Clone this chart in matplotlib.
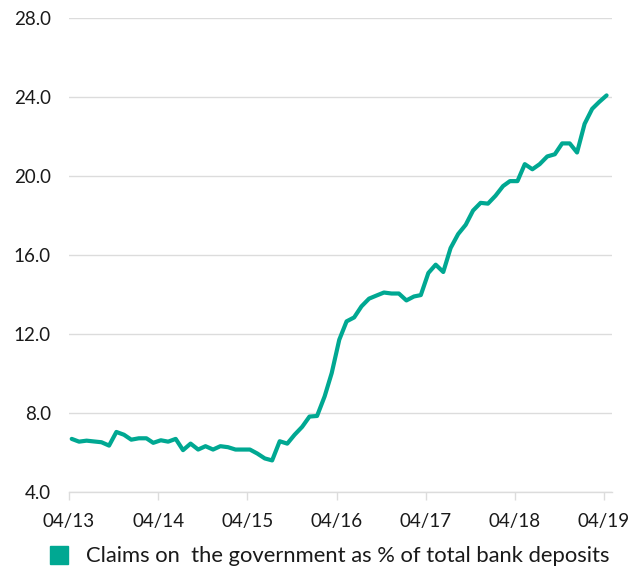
import numpy as np
import pandas as pd
import matplotlib
matplotlib.use("Agg")
import matplotlib.pyplot as plt
import matplotlib.dates as mdates
from matplotlib.patches import Patch

# monthly observations, 04/2013 .. 04/2019
months = pd.date_range("2013-04-01", periods=73, freq="MS") + pd.Timedelta(days=11)
claims_pct = [
    6.69, 6.55, 6.60, 6.56, 6.52, 6.35, 7.04, 6.90, 6.65, 6.72, 6.72, 6.49,
    6.62, 6.55, 6.69, 6.12, 6.45, 6.15, 6.32, 6.15, 6.32, 6.27, 6.15, 6.15,
    6.15, 5.95, 5.70, 5.60, 6.57, 6.45, 6.90, 7.30, 7.82, 7.85, 8.84, 10.02,
    11.71, 12.64, 12.84, 13.40, 13.79, 13.95, 14.10, 14.05, 14.05, 13.70, 13.90, 13.97,
    15.09, 15.51, 15.14, 16.35, 17.06, 17.53, 18.25, 18.64, 18.60, 19.00, 19.49, 19.74,
    19.74, 20.60, 20.34, 20.60, 20.99, 21.10, 21.65, 21.65, 21.19, 22.64, 23.40, 23.74,
    24.08,
]
tick_dates = pd.date_range("2013-04-01", "2019-04-01", freq="12MS")
y_ticks = [4, 8, 12, 16, 20, 24, 28]
series_label = "Claims on  the government as % of total bank deposits"

teal = "#00A892"
grid_col = "#DCDCDC"
plt.rcParams["font.family"] = ["Lato", "DejaVu Sans"]

fig = plt.figure(figsize=(6.35, 5.69), dpi=100)
ax = fig.add_axes([0.1087, 0.1353, 0.855, 0.8331])

ax.plot(months, claims_pct, color=teal, lw=3, solid_capstyle="round",
        solid_joinstyle="round", zorder=3)

ax.set_ylim(4, 28)
ax.set_yticks(y_ticks)
ax.set_yticklabels([f"{v:.1f}" for v in y_ticks])
ax.set_xlim(mdates.date2num(pd.Timestamp("2013-04-01")),
            mdates.date2num(pd.Timestamp("2019-05-04")))
ax.set_xticks(tick_dates)
ax.xaxis.set_major_formatter(mdates.DateFormatter("%m/%y"))

ax.grid(axis="y", color=grid_col, lw=1)
ax.set_axisbelow(True)
for s in ["top", "right", "left"]:
    ax.spines[s].set_visible(False)
ax.spines["bottom"].set_color(grid_col)
ax.spines["bottom"].set_linewidth(1)
ax.tick_params(axis="y", length=0, pad=13, labelsize=13.5, labelcolor="#1a1a1a")
ax.tick_params(axis="x", length=6, color=grid_col, width=1, pad=9,
               labelsize=13.5, labelcolor="#1a1a1a")

fig.legend(handles=[Patch(color=teal, label=series_label)], loc="lower left",
           bbox_to_anchor=(0.047, -0.03), frameon=False, fontsize=15.8,
           handlelength=0.86, handleheight=0.86, handletextpad=0.8,
           labelcolor="#1a1a1a")

fig.savefig("out.png", dpi=100)
